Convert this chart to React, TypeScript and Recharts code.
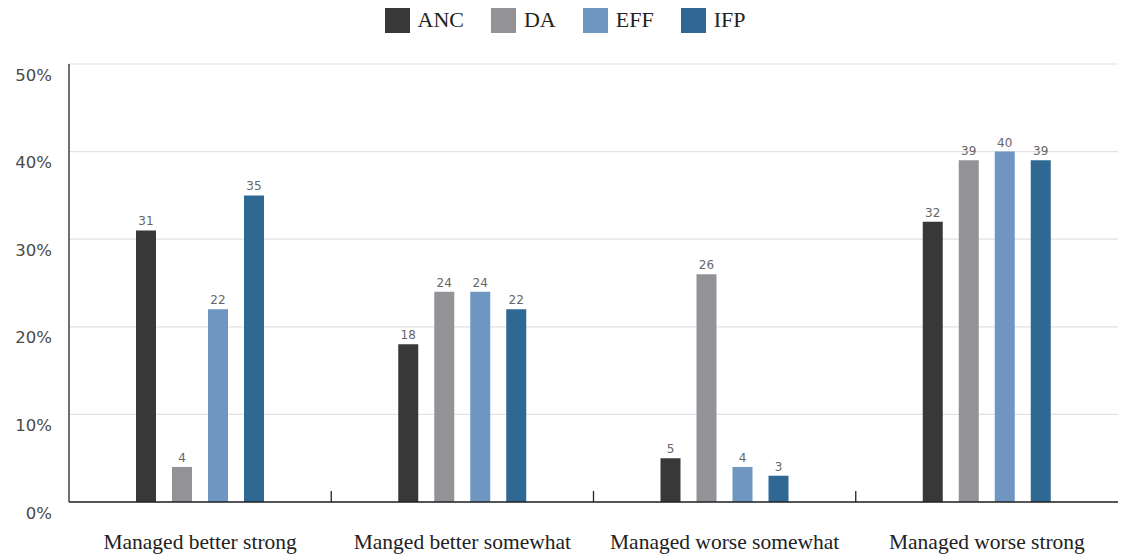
import React from "react";
import { BarChart, Bar, XAxis, YAxis, CartesianGrid, Legend, LabelList } from "recharts";

const categories = ["Managed better strong", "Manged better somewhat", "Managed worse somewhat", "Managed worse strong"];
const ancValues = [31, 18, 5, 32];
const daValues = [4, 24, 26, 39];
const effValues = [22, 24, 4, 40];
const ifpValues = [35, 22, 3, 39];
const yTicks = [0, 10, 20, 30, 40, 50];
const seriesNames = ["ANC", "DA", "EFF", "IFP"];
const seriesColors = ["#383838", "#939297", "#6e96c0", "#2e6893"];

const data = categories.map((c, i) => ({
  category: c,
  ANC: ancValues[i],
  DA: daValues[i],
  EFF: effValues[i],
  IFP: ifpValues[i],
}));

const serif = "'Liberation Serif', 'DejaVu Serif', serif";
const sans = "'DejaVu Sans', 'Noto Sans', sans-serif";

const X_TICK_SIZE = 6;
const X_TICK_MARGIN = 26;
const SEP_LEN = 11;

const LegendContent = () => (
  <div style={{ display: "flex", justifyContent: "center", alignItems: "center", height: 40, gap: 27, paddingLeft: 5 }}>
    {seriesNames.map((n, i) => (
      <div key={n} style={{ display: "flex", alignItems: "center" }}>
        <div style={{ width: 25, height: 25, background: seriesColors[i], marginRight: 8 }} />
        <span style={{ fontFamily: serif, fontSize: 22, color: "#222" }}>{n}</span>
      </div>
    ))}
  </div>
);

const YTick = (props: any) => {
  const { x, y, payload } = props;
  return (
    <text x={x} y={y + 11} textAnchor="end" dominantBaseline="central" fontFamily={sans} fontSize={16.5} fill="#4a4a4a">
      {payload.value}%
    </text>
  );
};

const XTick = (props: any) => {
  const { x, y, payload, index, visibleTicksCount, width } = props;
  const band = width / visibleTicksCount;
  const axisY = y - X_TICK_SIZE - X_TICK_MARGIN;
  const sepX = x + band / 2;
  return (
    <g>
      <text x={x} y={y} dy="0.71em" textAnchor="middle" fontFamily={serif} fontSize={21.5} fill="#222">
        {payload.value}
      </text>
      {index < visibleTicksCount - 1 && (
        <line x1={sepX} x2={sepX} y1={axisY} y2={axisY - SEP_LEN} stroke="#222" strokeWidth={1.3} />
      )}
    </g>
  );
};

export default function App() {
  return (
    <div style={{ position: "absolute", left: 0, top: 0, width: 1125, height: 556, background: "#fff" }}>
      <BarChart
        width={1125}
        height={556}
        data={data}
        margin={{ top: 24, right: 7, left: 0, bottom: 0 }}
        barSize={20}
        barGap={16}
      >
        <Legend verticalAlign="top" align="center" content={<LegendContent />} wrapperStyle={{ top: 0, left: 0, width: 1125, height: 40 }} height={40} />
        <CartesianGrid vertical={false} stroke="#e2e2e2" strokeWidth={1.2} />
        <XAxis
          dataKey="category"
          height={54}
          axisLine={{ stroke: "#222", strokeWidth: 1.3 }}
          tickLine={false}
          tickSize={X_TICK_SIZE}
          tickMargin={X_TICK_MARGIN}
          interval={0}
          tick={<XTick />}
        />
        <YAxis
          width={69}
          domain={[0, 50]}
          ticks={yTicks}
          axisLine={{ stroke: "#222", strokeWidth: 1.3 }}
          tickLine={false}
          tickSize={0}
          tickMargin={17}
          tick={<YTick />}
        />
        {seriesNames.map((n, i) => (
          <Bar key={n} dataKey={n} fill={seriesColors[i]} isAnimationActive={false}>
            <LabelList dataKey={n} position="top" offset={5} fontFamily={sans} fontSize={12} fill="#666" />
          </Bar>
        ))}
      </BarChart>
    </div>
  );
}
